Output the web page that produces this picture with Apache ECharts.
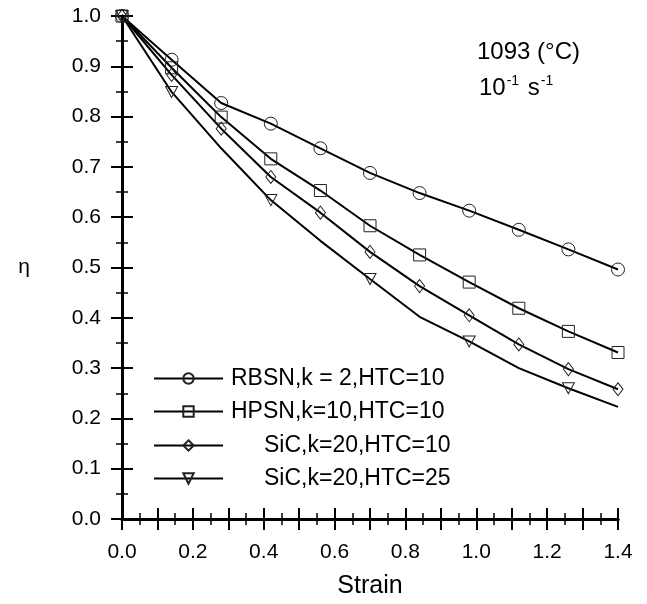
<!DOCTYPE html>
<html>
<head>
<meta charset="utf-8">
<script src="https://cdn.jsdelivr.net/npm/echarts@6/dist/echarts.min.js"></script>
<style>
  html, body { margin: 0; padding: 0; background: #fff; }
  #main { width: 647px; height: 604px; }
</style>
</head>
<body>
<div id="main"></div>
<script>
// strain values shared by every curve
const strain = [0, 0.14, 0.28, 0.42, 0.56, 0.70, 0.84, 0.98, 1.12, 1.26, 1.40];

const rbsn  = [1.0, 0.913, 0.827, 0.786, 0.737, 0.688, 0.648, 0.613, 0.575, 0.536, 0.496];
const hpsn  = [1.0, 0.897, 0.799, 0.716, 0.653, 0.583, 0.525, 0.471, 0.419, 0.373, 0.331];
const sic10 = [1.0, 0.883, 0.776, 0.680, 0.609, 0.531, 0.463, 0.405, 0.347, 0.298, 0.258];
const sic25 = [1.0, 0.849, 0.737, 0.634, 0.553, 0.477, 0.402, 0.353, 0.300, 0.260, 0.223];
// points of the HTC=25 curve that carry a triangle
const sic25Marked = [0, 1, 3, 5, 7, 9];

const names = ['RBSN,k = 2,HTC=10', 'HPSN,k=10,HTC=10', 'SiC,k=20,HTC=10', 'SiC,k=20,HTC=25'];
const xTicks = [0, 0.2, 0.4, 0.6, 0.8, 1.0, 1.2, 1.4];

const FONT = 'Liberation Sans';
const chart = echarts.init(document.getElementById('main'));

function pts(ys, marked) {
  return ys.map((y, i) => {
    if (marked && marked.indexOf(i) < 0) return { value: [strain[i], y], symbol: 'none' };
    return [strain[i], y];
  });
}

function mkSeries(name, ys, symbol, size, extra) {
  return Object.assign({
    name: name,
    type: 'line',
    data: pts(ys),
    symbol: symbol,
    symbolSize: size,
    showAllSymbol: true,
    lineStyle: { color: '#000', width: 2 },
    itemStyle: { color: 'rgba(255,255,255,0)', borderColor: '#222', borderWidth: 1 },
    emphasis: { disabled: true },
    z: 3
  }, extra || {});
}

function legendAt(name, top, pad) {
  return {
    data: [name],
    left: 153,
    top: top,
    padding: 0,
    orient: 'vertical',
    itemWidth: 69,
    itemHeight: 13,
    textStyle: { fontFamily: FONT, fontSize: 23, color: '#000', padding: [0, 0, 0, pad] },
    selectedMode: false
  };
}

const tickCommon = {
  axisLine: { lineStyle: { color: '#000', width: 3 } },
  axisTick: { inside: true, length: 11, lineStyle: { color: '#000', width: 2 } },
  minorTick: { show: true, splitNumber: 2, length: 6, lineStyle: { color: '#000', width: 1.5 } },
  splitLine: { show: false }
};

const option = {
  animation: false,
  backgroundColor: '#fff',
  grid: { left: 122, right: 29, top: 16, bottom: 85, outerBoundsMode: 'none', containLabel: false },
  title: [
    {
      text: '1093 (°C)',
      left: 477, top: 40, padding: 0,
      textStyle: { fontFamily: FONT, fontSize: 24, fontWeight: 'normal', color: '#000' }
    },
    {
      text: '10{sup|-1} s{sup|-1}',
      left: 479, top: 74, padding: 0,
      textStyle: {
        fontFamily: FONT, fontSize: 24, fontWeight: 'normal', color: '#000', lineHeight: 28,
        rich: { sup: { fontFamily: FONT, fontSize: 14, color: '#000', verticalAlign: 'top', lineHeight: 28, padding: [0, 2, 0, 1] } }
      }
    }
  ],
  legend: [
    legendAt(names[0], 367, 3),
    legendAt(names[1], 400, 3),
    legendAt(names[2], 434, 36),
    legendAt(names[3], 467, 36)
  ],
  xAxis: [
    Object.assign({
      type: 'value', min: 0, max: 1.4, interval: 0.1, position: 'bottom',
      name: 'Strain', nameLocation: 'middle', nameGap: 55,
      nameTextStyle: { fontFamily: FONT, fontSize: 25, color: '#000' },
      axisLabel: {
        fontFamily: FONT, fontSize: 21, color: '#000', margin: 23,
        formatter: v => (xTicks.some(t => Math.abs(t - v) < 1e-6) ? v.toFixed(1) : '')
      }
    }, tickCommon),
    Object.assign({
      type: 'value', min: 0, max: 1.4, interval: 0.1, position: 'top',
      axisLabel: { show: false }
    }, tickCommon)
  ],
  yAxis: [
    Object.assign({
      type: 'value', min: 0, max: 1.0, interval: 0.1, position: 'left',
      name: 'η', nameLocation: 'middle', nameRotate: 0, nameGap: 92,
      nameTextStyle: { fontFamily: FONT, fontSize: 21, color: '#000' },
      axisLabel: { fontFamily: FONT, fontSize: 21, color: '#000', margin: 21, formatter: v => v.toFixed(1) }
    }, tickCommon),
    Object.assign({
      type: 'value', min: 0, max: 1.0, interval: 0.1, position: 'right',
      axisLabel: { show: false }
    }, tickCommon)
  ],
  series: [
    mkSeries(names[0], rbsn, 'circle', 13),
    mkSeries(names[1], hpsn, 'rect', 12),
    mkSeries(names[2], sic10, 'diamond', [10, 13]),
    mkSeries(names[3], sic25, 'triangle', [12, 11], { symbolRotate: 180, data: pts(sic25, sic25Marked) })
  ]
};

chart.setOption(option);
</script>
</body>
</html>
